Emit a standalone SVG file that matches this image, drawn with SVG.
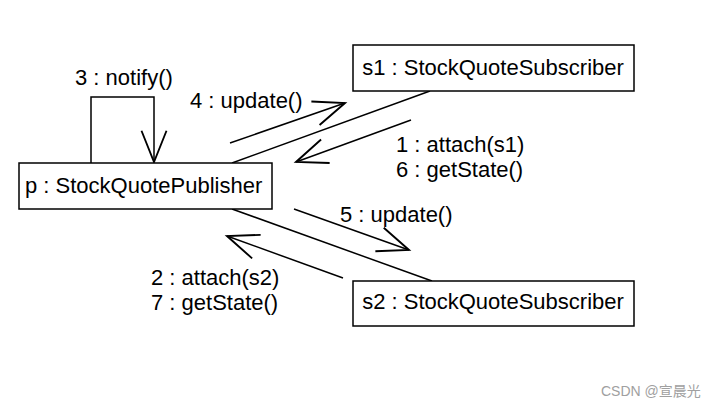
<svg xmlns="http://www.w3.org/2000/svg" width="715" height="406" viewBox="0 0 715 406">
<style>
.box{fill:#fff;stroke:#000;stroke-width:1.5}
.ln{fill:none;stroke:#000;stroke-width:1.5}
.t{font-family:"Liberation Sans",Arial,Helvetica,sans-serif;font-size:22px;fill:#000}
.wm{font-family:"Liberation Sans","Noto Sans CJK SC",sans-serif;font-size:14px;fill:#a0a0a0}
</style>
<defs>
<marker id="open" markerUnits="userSpaceOnUse" markerWidth="40" markerHeight="40" refX="0" refY="0" viewBox="-30 -15 32 30" orient="auto" overflow="visible">
<path d="M-25,-10 L0,0 L-25,10" fill="none" stroke="#000" stroke-width="1.5"/>
</marker>
</defs>
<rect width="715" height="406" fill="#fff"/>
<g id="connectors">
<line class="ln" x1="232" y1="163" x2="430" y2="91"/>
<line class="ln" x1="232" y1="209" x2="432" y2="281"/>
<polyline class="ln" points="91,163 91,97 154,97 154,162" marker-end="url(#open)"/>
<line class="ln" x1="230" y1="143" x2="345" y2="103" marker-end="url(#open)"/>
<line class="ln" x1="411" y1="120" x2="296" y2="162" marker-end="url(#open)"/>
<line class="ln" x1="294" y1="209" x2="409" y2="250" marker-end="url(#open)"/>
<line class="ln" x1="343" y1="278" x2="227" y2="236" marker-end="url(#open)"/>
</g>
<g id="labels">
<text class="t" x="75" y="85">3 : notify()</text>
<text class="t" x="190" y="108">4 : update()</text>
<text class="t" x="396" y="152">1 : attach(s1)</text>
<text class="t" x="396" y="177">6 : getState()</text>
<text class="t" x="340" y="222">5 : update()</text>
<text class="t" x="151" y="285">2 : attach(s2)</text>
<text class="t" x="151" y="310">7 : getState()</text>
</g>
<g id="publisher">
<rect class="box" x="19" y="163" width="253" height="46"/>
<text class="t" x="25" y="193">p : StockQuotePublisher</text>
</g>
<g id="s1">
<rect class="box" x="353" y="45" width="281" height="46"/>
<text class="t" x="493" y="75" text-anchor="middle">s1 : StockQuoteSubscriber</text>
</g>
<g id="s2">
<rect class="box" x="353" y="281" width="281" height="45"/>
<text class="t" x="493" y="309" text-anchor="middle">s2 : StockQuoteSubscriber</text>
</g>
<text class="wm" x="601" y="396">CSDN @宣晨光</text>
</svg>
